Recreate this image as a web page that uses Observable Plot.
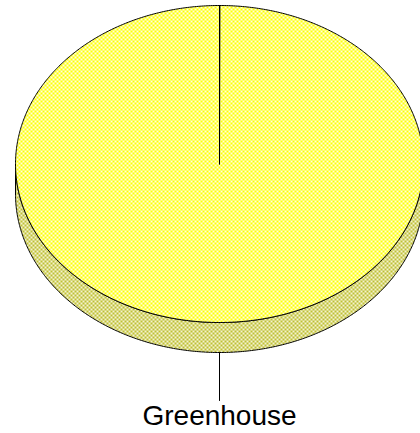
<!DOCTYPE html>
<html><head><meta charset="utf-8">
<script src="https://cdn.jsdelivr.net/npm/d3@7"></script>
<script src="https://cdn.jsdelivr.net/npm/@observablehq/plot@0.6"></script>
<style>body{margin:0;background:#fff;overflow:hidden}</style>
</head><body>
<svg width="0" height="0" style="position:absolute">
<defs>
<pattern id="topPat" width="4" height="4" patternUnits="userSpaceOnUse">
<rect width="4" height="4" fill="#ffffe0"/>
<rect width="2" height="2" fill="#ffff00"/>
<rect x="2" y="2" width="2" height="2" fill="#ffff00"/>
</pattern>
<pattern id="sidePat" width="4" height="4" patternUnits="userSpaceOnUse">
<rect width="4" height="4" fill="#f2f2d4"/>
<rect width="2" height="2" fill="#c0c030"/>
<rect x="2" y="2" width="2" height="2" fill="#c0c030"/>
</pattern>
</defs></svg>
<div id="chart"></div>
<script>
const categories = ["Greenhouse"];
const values = [100];

// layout (pixels)
const W = 420, H = 433;
const cx = 219, cy = 163.5, rx = 204, ry = 158.5, depth = 30;
const labelGap = 48, labelOffset = 64;

const pie = d3.pie().sort(null).startAngle(0).endAngle(2 * Math.PI)(values);
const P = (a, dz = 0) => ({x: cx + rx * Math.sin(a), y: cy - ry * Math.cos(a) + dz});
const arcPts = (a0, a1, dz = 0) => {
  const n = Math.max(2, Math.ceil(Math.abs(a1 - a0) / (Math.PI / 360)));
  return d3.range(n + 1).map(i => P(a0 + (a1 - a0) * i / n, dz));
};

const tops = [], sides = [], leaders = [], labels = [];
pie.forEach((s, i) => {
  const k = categories[i];
  tops.push(...[{x: cx, y: cy}, ...arcPts(s.startAngle, s.endAngle)].map(p => ({...p, k})));
  // visible outer side: angles in [PI/2, 3PI/2]
  const a0 = Math.max(s.startAngle, Math.PI / 2), a1 = Math.min(s.endAngle, 3 * Math.PI / 2);
  if (a1 > a0) {
    sides.push(...[...arcPts(a0, a1), ...arcPts(a1, a0, depth)].map(p => ({...p, k})));
  }
  const mid = (s.startAngle + s.endAngle) / 2;
  const base = P(mid, Math.cos(mid) < 0 ? depth : 0);
  leaders.push({x: base.x, y: base.y, k}, {x: base.x, y: base.y + labelGap, k});
  labels.push({x: base.x, y: base.y + labelOffset, k});
});

const chart = Plot.plot({
  width: W, height: H, margin: 0,
  x: {type: "linear", domain: [0, W], range: [0, W], axis: null},
  y: {type: "linear", domain: [0, H], range: [0, H], axis: null},
  style: {fontFamily: "Arial, 'Liberation Sans', sans-serif", background: "#fff"},
  marks: [
    Plot.line(sides, {x: "x", y: "y", z: "k", curve: "linear-closed", fill: "url(#sidePat)", stroke: "#000", strokeWidth: 1}),
    Plot.line(tops, {x: "x", y: "y", z: "k", curve: "linear-closed", fill: "url(#topPat)", stroke: "#000", strokeWidth: 1}),
    Plot.line(leaders, {x: "x", y: "y", z: "k", stroke: "#000", strokeWidth: 1}),
    Plot.text(labels, {x: "x", y: "y", text: "k", fontSize: 28, fill: "#000", textAnchor: "middle"})
  ]
});
document.getElementById("chart").appendChild(chart);
</script>
</body></html>
